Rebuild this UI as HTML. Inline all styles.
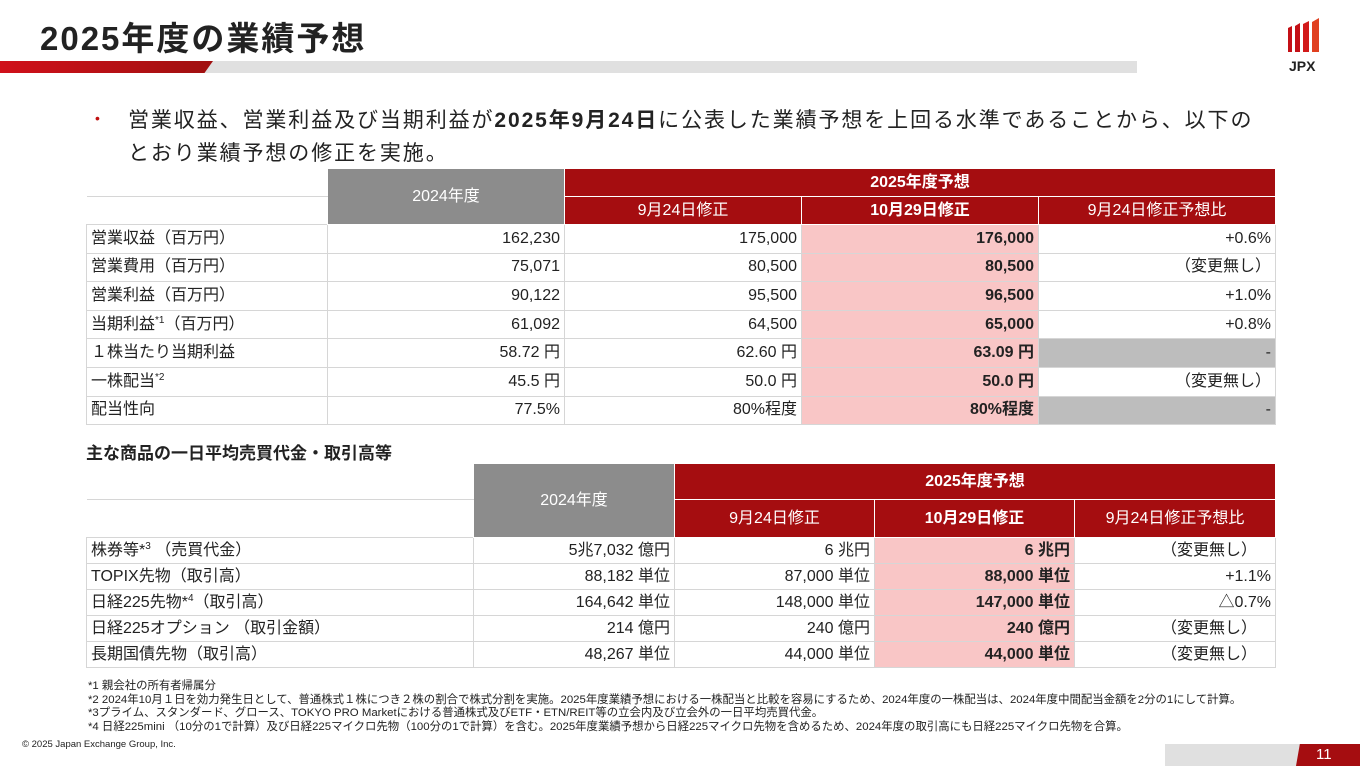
<!DOCTYPE html>
<html><head><meta charset="utf-8"><style>
*{margin:0;padding:0;box-sizing:border-box}
body{width:1360px;height:766px;background:#fff;position:relative;overflow:hidden;font-family:"Liberation Sans","Noto Sans CJK JP",sans-serif;color:#222}
.abs{position:absolute}
table{position:absolute;border-collapse:collapse;table-layout:fixed;font-size:16px}
td{border:1px solid #d6d6d6;padding:0 4px;white-space:nowrap;overflow:hidden;vertical-align:middle;line-height:1}
sup{font-size:10px;line-height:0;vertical-align:6px}
td.r{text-align:right}
td.c{text-align:right;padding-right:18px}
.hg{background:#8c8c8c;color:#fff;text-align:center;border-color:#fff}
.hr{background:#a50d10;color:#fff;text-align:center;border-color:#fff}
.pk{background:#f9c6c6;font-weight:bold;text-align:right}
.gy{background:#bdbdbd;text-align:right}
.b{font-weight:bold}
.note{font-size:11.4px;left:88px;line-height:13.6px;white-space:nowrap}
</style></head><body>
<div class="abs" style="left:40px;top:12px;font-size:33px;font-weight:bold;color:#222;letter-spacing:2px">2025年度の業績予想</div>
<div class="abs" style="left:0;top:61px;width:1137px;height:12px;background:#e0e0e0"></div>
<div class="abs" style="left:0;top:61px;width:213px;height:12px;background:linear-gradient(90deg,#d0101a,#a01010);clip-path:polygon(0 0,100% 0,96% 100%,0 100%)"></div>
<svg class="abs" style="left:1286px;top:18px" width="40" height="36" viewBox="0 0 40 36">
<polygon points="2,10 6,8 6,34 2,34" fill="#c41016"/>
<polygon points="9,8 14,5 14,34 9,34" fill="#c41016"/>
<polygon points="17,6 23,3 23,34 17,34" fill="#d21a1a"/>
<polygon points="26,4 33,0 33,34 26,34" fill="#e04020"/>
</svg>
<div class="abs" style="left:1289px;top:58px;font-size:14px;font-weight:bold;color:#222">JPX</div>
<div class="abs" style="left:95px;top:110px;font-size:14px;color:#c01010">•</div>
<div class="abs" style="left:128px;top:104px;font-size:21px;line-height:33px;color:#222;letter-spacing:1.9px;white-space:nowrap">営業収益、営業利益及び当期利益が<b>2025年9月24日</b>に公表した業績予想を上回る水準であることから、以下の<br>とおり業績予想の修正を実施。</div>

<table style="left:86px;top:168px;width:1189px">
<colgroup><col style="width:241px"><col style="width:237px"><col style="width:237px"><col style="width:237px"><col style="width:237px"></colgroup>
<tr style="height:28px"><td style="border:none;border-bottom:1px solid #d6d6d6"></td><td class="hg" rowspan="2">2024年度</td><td class="hr b" colspan="3">2025年度予想</td></tr>
<tr style="height:28px"><td style="border:none;border-bottom:1px solid #d6d6d6"></td><td class="hr">9月24日修正</td><td class="hr b">10月29日修正</td><td class="hr">9月24日修正予想比</td></tr>
<tr style="height:28.6px"><td>営業収益（百万円）</td><td class="r">162,230</td><td class="r">175,000</td><td class="pk">176,000</td><td class="r">+0.6%</td></tr>
<tr style="height:28.6px"><td>営業費用（百万円）</td><td class="r">75,071</td><td class="r">80,500</td><td class="pk">80,500</td><td class="r">（変更無し）</td></tr>
<tr style="height:28.6px"><td>営業利益（百万円）</td><td class="r">90,122</td><td class="r">95,500</td><td class="pk">96,500</td><td class="r">+1.0%</td></tr>
<tr style="height:28.6px"><td>当期利益<sup>*1</sup>（百万円）</td><td class="r">61,092</td><td class="r">64,500</td><td class="pk">65,000</td><td class="r">+0.8%</td></tr>
<tr style="height:28.6px"><td>１株当たり当期利益</td><td class="r">58.72 円</td><td class="r">62.60 円</td><td class="pk">63.09 円</td><td class="gy">-</td></tr>
<tr style="height:28.6px"><td>一株配当<sup>*2</sup></td><td class="r">45.5 円</td><td class="r">50.0 円</td><td class="pk">50.0 円</td><td class="r">（変更無し）</td></tr>
<tr style="height:28.6px"><td>配当性向</td><td class="r">77.5%</td><td class="r">80%程度</td><td class="pk">80%程度</td><td class="gy">-</td></tr>
</table>

<div class="abs" style="left:86px;top:439px;font-size:17px;font-weight:bold">主な商品の一日平均売買代金・取引高等</div>

<table style="left:86px;top:463px;width:1189px">
<colgroup><col style="width:387px"><col style="width:201px"><col style="width:200px"><col style="width:200px"><col style="width:201px"></colgroup>
<tr style="height:36px"><td style="border:none;border-bottom:1px solid #d6d6d6"></td><td class="hg" rowspan="2">2024年度</td><td class="hr b" colspan="3">2025年度予想</td></tr>
<tr style="height:38px"><td style="border:none;border-bottom:1px solid #d6d6d6"></td><td class="hr">9月24日修正</td><td class="hr b">10月29日修正</td><td class="hr">9月24日修正予想比</td></tr>
<tr style="height:26px"><td>株券等*<sup>3</sup> （売買代金）</td><td class="r">5兆7,032 億円</td><td class="r">6 兆円</td><td class="pk">6 兆円</td><td class="c">（変更無し）</td></tr>
<tr style="height:26px"><td>TOPIX先物（取引高）</td><td class="r">88,182 単位</td><td class="r">87,000 単位</td><td class="pk">88,000 単位</td><td class="r">+1.1%</td></tr>
<tr style="height:26px"><td>日経225先物*<sup>4</sup>（取引高）</td><td class="r">164,642 単位</td><td class="r">148,000 単位</td><td class="pk">147,000 単位</td><td class="r">△0.7%</td></tr>
<tr style="height:26px"><td>日経225オプション （取引金額）</td><td class="r">214 億円</td><td class="r">240 億円</td><td class="pk">240 億円</td><td class="c">（変更無し）</td></tr>
<tr style="height:26px"><td>長期国債先物（取引高）</td><td class="r">48,267 単位</td><td class="r">44,000 単位</td><td class="pk">44,000 単位</td><td class="c">（変更無し）</td></tr>
</table>

<div class="abs note" style="top:680px">*1 親会社の所有者帰属分<br>*2 2024年10月１日を効力発生日として、普通株式１株につき２株の割合で株式分割を実施。2025年度業績予想における一株配当と比較を容易にするため、2024年度の一株配当は、2024年度中間配当金額を2分の1にして計算。<br>*3プライム、スタンダード、グロース、TOKYO PRO Marketにおける普通株式及びETF・ETN/REIT等の立会内及び立会外の一日平均売買代金。<br>*4 日経225mini （10分の1で計算）及び日経225マイクロ先物（100分の1で計算）を含む。2025年度業績予想から日経225マイクロ先物を含めるため、2024年度の取引高にも日経225マイクロ先物を合算。</div>
<div class="abs" style="left:22px;top:739px;font-size:9.5px">© 2025 Japan Exchange Group, Inc.</div>
<div class="abs" style="left:1165px;top:744px;width:195px;height:22px;background:#e0e0e0"></div>
<div class="abs" style="left:1296px;top:744px;width:64px;height:22px;background:#a50d10;clip-path:polygon(6% 0,100% 0,100% 100%,0 100%)"></div>
<div class="abs" style="left:1316px;top:746px;font-size:15px;color:#fff">11</div>
</body></html>
